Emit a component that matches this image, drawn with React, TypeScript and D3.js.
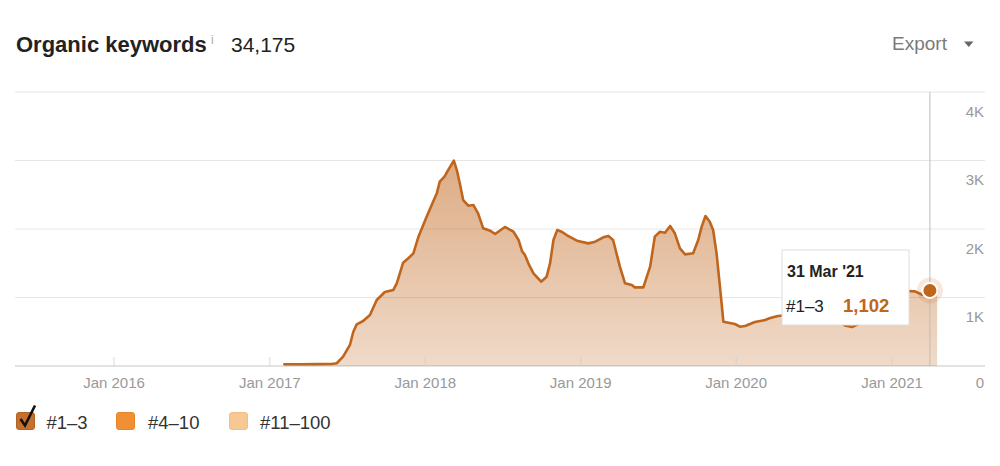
import React from "react";
import * as d3 from "d3";

const dates: string[] = [
  "2017-02-04","2017-03-15","2017-04-20","2017-05-26","2017-06-07","2017-06-22","2017-07-08","2017-07-16",
  "2017-07-24","2017-08-08","2017-08-24","2017-09-09","2017-09-28","2017-10-18","2017-10-26","2017-11-10",
  "2017-11-22","2017-12-04","2017-12-16","2018-01-01","2018-01-16","2018-01-28","2018-02-04","2018-02-15",
  "2018-02-26","2018-03-09","2018-03-16","2018-03-23","2018-03-31","2018-04-12","2018-04-24","2018-05-05",
  "2018-05-17","2018-06-02","2018-06-14","2018-07-07","2018-07-27","2018-08-08","2018-08-16","2018-08-23",
  "2018-08-31","2018-09-12","2018-09-30","2018-10-13","2018-10-21","2018-10-29","2018-11-07","2018-11-17",
  "2018-11-29","2018-12-23","2019-01-19","2019-02-04","2019-02-23","2019-03-07","2019-03-18","2019-04-03",
  "2019-04-15","2019-05-01","2019-05-08","2019-05-28","2019-06-13","2019-06-24","2019-07-06","2019-07-18",
  "2019-07-30","2019-08-10","2019-08-22","2019-09-03","2019-09-22","2019-10-04","2019-10-12","2019-10-21",
  "2019-10-31","2019-11-08","2019-11-16","2019-11-24","2019-12-02","2019-12-14","2019-12-29","2020-01-10",
  "2020-01-22","2020-02-14","2020-03-09","2020-03-21","2020-04-08","2020-05-30","2020-07-16","2020-08-20",
  "2020-09-13","2020-09-29","2020-10-13","2020-11-10","2020-12-16","2021-01-20","2021-02-10","2021-02-24",
  "2021-03-13","2021-03-31","2021-04-17"
];

const top3: number[] = [
  25,25,28,30,40,136,307,500,
  608,657,745,964,1080,1110,1207,1508,
  1572,1645,1888,2131,2350,2521,2691,2764,
  2886,2997,2861,2667,2423,2340,2350,2229,
  2010,1975,1927,2030,1960,1840,1680,1620,
  1499,1353,1231,1304,1499,1839,1985,1961,
  1912,1829,1790,1815,1878,1898,1839,1450,
  1207,1182,1148,1148,1450,1888,1960,1946,
  2044,1937,1718,1630,1645,1839,2034,2190,
  2107,1985,1645,1158,647,632,613,574,
  584,642,671,700,730,760,790,700,
  590,570,610,800,980,1090,1095,1090,
  1040,1102,1090
];

const yTicks: number[] = [0, 1000, 2000, 3000, 4000];
const yTickLabels: string[] = ["0", "1K", "2K", "3K", "4K"];
const xTickYears: number[] = [2016, 2017, 2018, 2019, 2020, 2021];

const legendItems: { label: string; color: string; border: string; checked: boolean }[] = [
  { label: "#1–3", color: "#c4712d", border: "#b3621f", checked: true },
  { label: "#4–10", color: "#f18f35", border: "#e8842a", checked: false },
  { label: "#11–100", color: "#f8c894", border: "#f3bd84", checked: false },
];

const title = "Organic keywords";
const total = "34,175";
const tooltipDate = "2021-03-31";
const tooltipDateLabel = "31 Mar '21";
const tooltipValue = 1102;

const FONT = "Helvetica, Arial, 'Liberation Sans', sans-serif";
const LINE = "#c0651c";

export default function App() {
  const W = 1000, H = 466;
  const left = 15, right = 985;
  const parse = d3.timeParse("%Y-%m-%d");
  const data = dates.map((d, i) => ({ date: parse(d) as Date, value: top3[i] }));

  const x = d3.scaleTime()
    .domain([new Date(2016, 0, 1), new Date(2021, 0, 1)])
    .range([114, 892]);
  const y = d3.scaleLinear().domain([0, 4000]).range([366, 92]);

  const area = d3.area<{ date: Date; value: number }>()
    .x(d => x(d.date))
    .y0(y(0))
    .y1(d => y(d.value));
  const line = d3.line<{ date: Date; value: number }>()
    .x(d => x(d.date))
    .y(d => y(d.value));

  const fmt = d3.timeFormat("%b %Y");
  const tx = x(parse(tooltipDate) as Date);
  const ty = y(tooltipValue);

  return (
    <svg width={W} height={H} style={{ position: "absolute", left: 0, top: 0, background: "#fff" }} fontFamily={FONT}>
      <defs>
        <linearGradient id="areaGrad" x1="0" y1={y(4000)} x2="0" y2={y(0)} gradientUnits="userSpaceOnUse">
          <stop offset="0" stopColor="#c0651c" stopOpacity={0.64} />
          <stop offset="1" stopColor="#c0651c" stopOpacity={0.24} />
        </linearGradient>
      </defs>

      {/* header */}
      <text x={16} y={52} fontSize={22} fontWeight="bold" fill="#222">{title}</text>
      <text x={211} y={44} fontSize={12} fill="#aaa">i</text>
      <text x={231} y={52} fontSize={21} fill="#222">{total}</text>
      <text x={892} y={50} fontSize={19} fill="#7a7a7a">Export</text>
      <path d="M964,41.5 L973.5,41.5 L968.75,47 Z" fill="#666" />

      {/* grid */}
      {yTicks.map((v, i) => (
        <line key={"g" + i} x1={left} x2={right} y1={y(v)} y2={y(v)} stroke={v === 0 ? "#d8d8d8" : "#e6e6e6"} strokeWidth={v === 0 ? 1.5 : 1} />
      ))}

      {/* area */}
      <path d={area(data) || ""} fill="url(#areaGrad)" />
      <path d={line(data) || ""} fill="none" stroke={LINE} strokeWidth={2.6} strokeLinejoin="round" strokeLinecap="round" />

      {/* x ticks */}
      {xTickYears.map(yr => {
        const d = new Date(yr, 0, 1);
        const xx = x(d);
        return (
          <g key={yr}>
            <line x1={xx} x2={xx} y1={357} y2={366} stroke="#d0d0d0" strokeOpacity={0.8} strokeWidth={1} />
            <text x={xx} y={388} textAnchor="middle" fontSize={15} fill="#999">{fmt(d)}</text>
          </g>
        );
      })}

      {/* y labels */}
      {yTicks.map((v, i) => (
        <text key={"yl" + i} x={984} y={v === 0 ? 388 : y(v) + 24.5} textAnchor="end" fontSize={15} fill="#999">{yTickLabels[i]}</text>
      ))}

      {/* crosshair */}
      <line x1={tx} x2={tx} y1={y(4000)} y2={y(0)} stroke="#bdbdbd" strokeWidth={1} />

      {/* point */}
      <circle cx={tx} cy={ty} r={13} fill={LINE} fillOpacity={0.15} />
      <circle cx={tx} cy={ty} r={7.5} fill={LINE} stroke="#fff" strokeWidth={2} />

      {/* tooltip */}
      <g>
        <rect x={782} y={250} width={127} height={75} fill="#fff" stroke="#dedede" strokeWidth={1} />
        <text x={787} y={277} fontSize={16} fontWeight="bold" fill="#222">{tooltipDateLabel}</text>
        <text x={786} y={312} fontSize={17} fill="#222">#1–3</text>
        <text x={843} y={312} fontSize={18.5} fontWeight="bold" fill={LINE}>{d3.format(",")(tooltipValue)}</text>
      </g>

      {/* legend */}
      {legendItems.map((it, i) => {
        const xs = [16, 116, 229][i];
        const tx2 = [46.5, 148, 260][i];
        return (
          <g key={it.label}>
            <rect x={xs + 0.5} y={412.5} width={18} height={17} rx={2.5} fill={it.color} stroke={it.border} strokeWidth={1} />
            {it.checked && (
              <path d="M20.5,419 L25,425.5 L35,405.5" fill="none" stroke="#111" strokeWidth={2.6} strokeLinejoin="miter" />
            )}
            <text x={tx2} y={428.5} fontSize={18.5} fill="#333">{it.label}</text>
          </g>
        );
      })}
    </svg>
  );
}
